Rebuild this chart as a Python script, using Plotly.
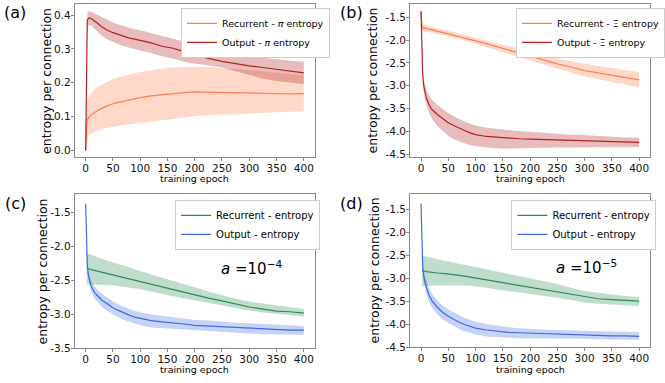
import plotly.graph_objects as go
from plotly.subplots import make_subplots

epochs = [0, 1, 2, 3, 5, 7, 10, 15, 20, 30, 40, 50, 60, 70, 80, 90, 100,
          120, 140, 160, 180, 200, 225, 250, 275, 300, 325, 350, 375, 400]
# the recurrent curves in (c) and (d) start at epoch 2
epochs_rec = epochs[2:]

# (a) pi entropy
rec_pi_mean = [0.0, 0.06, 0.08, 0.09, 0.096, 0.10, 0.105, 0.111, 0.116, 0.125, 0.132, 0.138, 0.142, 0.146, 0.150,
               0.153, 0.156, 0.161, 0.165, 0.168, 0.171, 0.173, 0.172, 0.170, 0.170, 0.169, 0.168, 0.166, 0.167, 0.168]
rec_pi_lo = [0.0, 0.02, 0.03, 0.037, 0.045, 0.048, 0.05, 0.054, 0.058, 0.063, 0.067, 0.07, 0.073, 0.075, 0.077,
             0.079, 0.081, 0.085, 0.09, 0.094, 0.098, 0.101, 0.104, 0.106, 0.108, 0.11, 0.112, 0.113, 0.114, 0.115]
rec_pi_hi = [0.0, 0.10, 0.13, 0.145, 0.155, 0.162, 0.17, 0.178, 0.185, 0.195, 0.203, 0.21, 0.216, 0.221, 0.225,
             0.229, 0.232, 0.238, 0.242, 0.245, 0.247, 0.247, 0.246, 0.244, 0.241, 0.238, 0.234, 0.23, 0.226, 0.222]
out_pi_mean = [0.0, 0.2, 0.33, 0.385, 0.39, 0.392, 0.39, 0.385, 0.378, 0.365, 0.355, 0.348, 0.342, 0.337, 0.332,
               0.329, 0.326, 0.318, 0.308, 0.302, 0.292, 0.283, 0.272, 0.263, 0.256, 0.25, 0.245, 0.239, 0.234, 0.229]
out_pi_lo = [0.0, 0.18, 0.3, 0.36, 0.368, 0.37, 0.37, 0.362, 0.352, 0.338, 0.328, 0.32, 0.314, 0.308, 0.303,
             0.299, 0.295, 0.288, 0.278, 0.272, 0.262, 0.257, 0.251, 0.245, 0.234, 0.222, 0.212, 0.205, 0.2, 0.196]
out_pi_hi = [0.0, 0.22, 0.36, 0.405, 0.41, 0.412, 0.41, 0.406, 0.4, 0.392, 0.385, 0.378, 0.372, 0.367, 0.362,
             0.358, 0.355, 0.347, 0.34, 0.332, 0.322, 0.31, 0.3, 0.29, 0.283, 0.278, 0.273, 0.268, 0.265, 0.262]

# (b) Xi entropy
rec_xi_mean = [-1.37, -1.65, -1.72, -1.73, -1.74, -1.745, -1.75, -1.76, -1.775, -1.8, -1.83, -1.86, -1.89, -1.92, -1.95,
               -1.98, -2.01, -2.08, -2.15, -2.22, -2.29, -2.36, -2.44, -2.52, -2.59, -2.67, -2.72, -2.77, -2.82, -2.87]
rec_xi_hi = [-1.37, -1.6, -1.65, -1.66, -1.67, -1.675, -1.68, -1.69, -1.71, -1.74, -1.77, -1.8, -1.83, -1.86, -1.89,
             -1.92, -1.95, -2.01, -2.07, -2.14, -2.2, -2.26, -2.33, -2.4, -2.46, -2.52, -2.57, -2.61, -2.66, -2.7]
rec_xi_lo = [-1.37, -1.7, -1.78, -1.8, -1.81, -1.815, -1.82, -1.83, -1.84, -1.86, -1.89, -1.92, -1.95, -1.99, -2.02,
             -2.05, -2.08, -2.15, -2.23, -2.3, -2.38, -2.45, -2.54, -2.63, -2.72, -2.8, -2.86, -2.92, -2.98, -3.04]
out_xi_mean = [-1.37, -1.9, -2.4, -2.75, -3.0, -3.15, -3.28, -3.42, -3.52, -3.63, -3.73, -3.81, -3.87, -3.93, -3.98,
               -4.03, -4.07, -4.11, -4.13, -4.15, -4.16, -4.17, -4.18, -4.19, -4.2, -4.21, -4.22, -4.23, -4.24, -4.24]
out_xi_hi = [-1.37, -1.8, -2.25, -2.55, -2.85, -3.0, -3.12, -3.22, -3.3, -3.42, -3.52, -3.6, -3.67, -3.73, -3.78,
             -3.83, -3.87, -3.92, -3.95, -3.97, -3.99, -4.01, -4.03, -4.05, -4.07, -4.08, -4.1, -4.12, -4.13, -4.13]
out_xi_lo = [-1.37, -2.0, -2.55, -2.95, -3.15, -3.3, -3.42, -3.6, -3.72, -3.88, -4.0, -4.1, -4.17, -4.22, -4.26,
             -4.3, -4.32, -4.35, -4.37, -4.38, -4.37, -4.36, -4.36, -4.35, -4.35, -4.35, -4.35, -4.35, -4.34, -4.34]

# (c) a = 1e-4
rec_c_mean = [-2.32, -2.32, -2.33, -2.33, -2.34, -2.35, -2.36, -2.38, -2.4, -2.42, -2.44, -2.46, -2.48, -2.5,
              -2.52, -2.55, -2.59, -2.63, -2.67, -2.71, -2.76, -2.8, -2.85, -2.89, -2.92, -2.95, -2.96, -2.98]
rec_c_hi = [-2.1, -2.1, -2.1, -2.11, -2.12, -2.14, -2.15, -2.18, -2.21, -2.24, -2.26, -2.28, -2.31, -2.33,
            -2.36, -2.41, -2.46, -2.51, -2.55, -2.6, -2.66, -2.72, -2.77, -2.81, -2.84, -2.87, -2.9, -2.92]
rec_c_lo = [-2.56, -2.56, -2.56, -2.56, -2.56, -2.56, -2.56, -2.57, -2.57, -2.57, -2.58, -2.59, -2.6, -2.62,
            -2.63, -2.66, -2.7, -2.73, -2.76, -2.79, -2.83, -2.87, -2.91, -2.94, -2.97, -2.99, -3.01, -3.03]
out_c_mean = [-1.37, -1.85, -2.1, -2.27, -2.42, -2.5, -2.58, -2.66, -2.71, -2.79, -2.85, -2.9, -2.94, -2.98, -3.01,
              -3.04, -3.06, -3.09, -3.11, -3.12, -3.14, -3.16, -3.17, -3.19, -3.2, -3.21, -3.22, -3.22, -3.23, -3.23]
out_c_hi = [-1.37, -1.82, -2.05, -2.2, -2.35, -2.42, -2.5, -2.57, -2.62, -2.7, -2.76, -2.81, -2.85, -2.89, -2.92,
            -2.95, -2.97, -3.0, -3.02, -3.04, -3.06, -3.08, -3.09, -3.11, -3.12, -3.13, -3.14, -3.15, -3.16, -3.17]
out_c_lo = [-1.37, -1.88, -2.15, -2.34, -2.49, -2.58, -2.66, -2.75, -2.8, -2.89, -2.95, -3.0, -3.04, -3.08, -3.11,
            -3.14, -3.16, -3.19, -3.2, -3.21, -3.23, -3.24, -3.25, -3.26, -3.27, -3.28, -3.29, -3.29, -3.3, -3.3]

# (d) a = 1e-5
rec_d_mean = [-2.83, -2.83, -2.84, -2.84, -2.85, -2.86, -2.87, -2.88, -2.89, -2.9, -2.91, -2.93, -2.95, -2.97,
              -2.99, -3.03, -3.07, -3.11, -3.15, -3.2, -3.25, -3.3, -3.35, -3.4, -3.44, -3.46, -3.48, -3.49]
rec_d_hi = [-2.5, -2.5, -2.5, -2.51, -2.52, -2.54, -2.55, -2.58, -2.6, -2.63, -2.65, -2.68, -2.7, -2.73,
            -2.75, -2.8, -2.85, -2.9, -2.94, -2.99, -3.05, -3.12, -3.2, -3.27, -3.31, -3.35, -3.38, -3.4]
rec_d_lo = [-3.17, -3.17, -3.17, -3.16, -3.16, -3.16, -3.15, -3.15, -3.14, -3.14, -3.14, -3.15, -3.15, -3.16,
            -3.17, -3.2, -3.24, -3.27, -3.3, -3.33, -3.38, -3.42, -3.47, -3.52, -3.55, -3.57, -3.59, -3.6]
out_d_mean = [-1.37, -2.0, -2.45, -2.7, -2.95, -3.08, -3.2, -3.37, -3.48, -3.63, -3.74, -3.82, -3.89, -3.95, -4.0,
              -4.04, -4.08, -4.12, -4.15, -4.17, -4.18, -4.19, -4.2, -4.21, -4.22, -4.23, -4.24, -4.25, -4.25, -4.26]
out_d_hi = [-1.37, -1.95, -2.35, -2.58, -2.82, -2.95, -3.06, -3.22, -3.33, -3.48, -3.59, -3.67, -3.74, -3.8, -3.86,
            -3.9, -3.94, -3.99, -4.03, -4.06, -4.08, -4.1, -4.11, -4.12, -4.13, -4.14, -4.15, -4.16, -4.17, -4.17]
out_d_lo = [-1.37, -2.05, -2.55, -2.82, -3.08, -3.21, -3.34, -3.52, -3.63, -3.78, -3.89, -3.97, -4.04, -4.1, -4.15,
            -4.19, -4.22, -4.26, -4.28, -4.29, -4.3, -4.3, -4.3, -4.3, -4.31, -4.31, -4.32, -4.32, -4.33, -4.33]

x_ticks = [0, 50, 100, 150, 200, 250, 300, 350, 400]
y_ticks_a = [0.0, 0.1, 0.2, 0.3, 0.4]
y_labels_a = ["0.0", "0.1", "0.2", "0.3", "0.4"]
y_ticks_b = [-4.5, -4.0, -3.5, -3.0, -2.5, -2.0, -1.5]
y_labels_b = ["-4.5", "-4.0", "-3.5", "-3.0", "-2.5", "-2.0", "-1.5"]
y_ticks_c = [-3.5, -3.0, -2.5, -2.0, -1.5]
y_labels_c = ["-3.5", "-3.0", "-2.5", "-2.0", "-1.5"]

ORANGE, RED, GREEN, BLUE = "#FF7F50", "#B22222", "#2E8B57", "#4169E1"
FILLS = {ORANGE: "rgba(255,127,80,0.3)", RED: "rgba(178,34,34,0.3)",
         GREEN: "rgba(46,139,87,0.3)", BLUE: "rgba(65,105,225,0.3)"}
FONT = "DejaVu Sans"

fig = make_subplots(rows=2, cols=2)


def add_band(x, lo, hi, color, row, col):
    fig.add_trace(go.Scatter(x=x, y=hi, mode="lines", line=dict(width=0), showlegend=False,
                             hoverinfo="skip"), row=row, col=col)
    fig.add_trace(go.Scatter(x=x, y=lo, mode="lines", line=dict(width=0), fill="tonexty",
                             fillcolor=FILLS[color], showlegend=False, hoverinfo="skip"), row=row, col=col)


def add_line(x, y, color, name, legend, row, col):
    fig.add_trace(go.Scatter(x=x, y=y, mode="lines", line=dict(color=color, width=1.2),
                             name=name, legend=legend), row=row, col=col)


# (a)
add_band(epochs, rec_pi_lo, rec_pi_hi, ORANGE, 1, 1)
add_band(epochs, out_pi_lo, out_pi_hi, RED, 1, 1)
add_line(epochs, rec_pi_mean, ORANGE, "Recurrent - <i>π</i> entropy", "legend", 1, 1)
add_line(epochs, out_pi_mean, RED, "Output - <i>π</i> entropy", "legend", 1, 1)
# (b)
add_band(epochs, rec_xi_lo, rec_xi_hi, ORANGE, 1, 2)
add_band(epochs, out_xi_lo, out_xi_hi, RED, 1, 2)
add_line(epochs, rec_xi_mean, ORANGE, "Recurrent - Ξ entropy", "legend2", 1, 2)
add_line(epochs, out_xi_mean, RED, "Output - Ξ entropy", "legend2", 1, 2)
# (c)
add_band(epochs_rec, rec_c_lo, rec_c_hi, GREEN, 2, 1)
add_band(epochs, out_c_lo, out_c_hi, BLUE, 2, 1)
add_line(epochs_rec, rec_c_mean, GREEN, "Recurrent - entropy", "legend3", 2, 1)
add_line(epochs, out_c_mean, BLUE, "Output - entropy", "legend3", 2, 1)
# (d)
add_band(epochs_rec, rec_d_lo, rec_d_hi, GREEN, 2, 2)
add_band(epochs, out_d_lo, out_d_hi, BLUE, 2, 2)
add_line(epochs_rec, rec_d_mean, GREEN, "Recurrent - entropy", "legend4", 2, 2)
add_line(epochs, out_d_mean, BLUE, "Output - entropy", "legend4", 2, 2)

W, H = 665, 383
# axes boxes in pixels: left, right, top, bottom
boxes = {(1, 1): (76, 320, 4, 160), (1, 2): (417, 661, 4, 160),
         (2, 1): (76, 320, 197, 354), (2, 2): (417, 661, 197, 353)}
y_setup = {(1, 1): ([-0.021, 0.433], y_ticks_a, y_labels_a),
           (1, 2): ([-4.57, -1.21], y_ticks_b, y_labels_b),
           (2, 1): ([-3.5, -1.225], y_ticks_c, y_labels_c),
           (2, 2): ([-4.5, -1.16], y_ticks_b, y_labels_b)}

axis_style = dict(showline=True, mirror=True, linecolor="#888", linewidth=1, showgrid=False, zeroline=False,
                  ticks="outside", ticklen=3, tickwidth=1, tickcolor="#888", ticklabelstandoff=-2,
                  tickfont=dict(family=FONT, size=10.5, color="#111"))

for (r, c), (l, rt, t, b) in boxes.items():
    fig.update_xaxes(domain=[l / W, rt / W], range=[-20, 420], tickvals=x_ticks, row=r, col=c, **axis_style)
    rng, tv, tt = y_setup[(r, c)]
    fig.update_yaxes(domain=[1 - b / H, 1 - t / H], range=rng, tickvals=tv, ticktext=tt, row=r, col=c,
                     **axis_style)

annotations = []
panel_labels = [("(a)", 15, 13), ("(b)", 357, 13), ("(c)", 16, 207), ("(d)", 357, 207)]
for txt, px, py in panel_labels:
    annotations.append(dict(text=txt, x=px / W, y=1 - py / H, xref="paper", yref="paper", showarrow=False,
                            xanchor="center", yanchor="middle", font=dict(family=FONT, size=16, color="#000")))

ytitle_x = {(1, 1): 47, (1, 2): 379, (2, 1): 43, (2, 2): 381}
xtitle_y = {(1, 1): 181, (1, 2): 181, (2, 1): 375, (2, 2): 375}
for (r, c), (l, rt, t, b) in boxes.items():
    annotations.append(dict(text="entropy per connection", textangle=-90, x=ytitle_x[(r, c)] / W,
                            y=1 - (t + b) / 2 / H, xref="paper", yref="paper", showarrow=False,
                            xanchor="center", yanchor="middle", font=dict(family=FONT, size=12.5, color="#000")))
    annotations.append(dict(text="training epoch", x=(l + rt) / 2 / W, y=1 - xtitle_y[(r, c)] / H,
                            xref="paper", yref="paper", showarrow=False, xanchor="center", yanchor="middle",
                            font=dict(family=FONT, size=9.5, color="#000")))

annotations.append(dict(text="<i>a</i> =10<sup>−4</sup>", x=244, y=-2.31, xref="x3", yref="y3", showarrow=False,
                        xanchor="left", yanchor="middle", font=dict(family=FONT, size=15, color="#000")))
annotations.append(dict(text="<i>a</i> =10<sup>−5</sup>", x=243, y=-2.76, xref="x4", yref="y4", showarrow=False,
                        xanchor="left", yanchor="middle", font=dict(family=FONT, size=15, color="#000")))

legend_style = dict(bgcolor="white", bordercolor="#cccccc", borderwidth=1, xanchor="left", yanchor="top",
                    itemwidth=30, tracegroupgap=0, traceorder="normal")
fig.update_layout(
    width=W, height=H, margin=dict(l=0, r=0, t=0, b=0),
    plot_bgcolor="white", paper_bgcolor="white",
    font=dict(family=FONT, color="#000"),
    annotations=annotations,
    legend=dict(x=184 / W, y=1 - 8 / H, font=dict(family=FONT, size=9.5), **legend_style),
    legend2=dict(x=525 / W, y=1 - 8 / H, font=dict(family=FONT, size=9.5), **legend_style),
    legend3=dict(x=178 / W, y=1 - 203 / H, font=dict(family=FONT, size=10), **legend_style),
    legend4=dict(x=520 / W, y=1 - 203 / H, font=dict(family=FONT, size=10), **legend_style),
)

# the page body has a default 8px margin; drop it so the figure sits at the window origin
fig.write_html("out.html", config={"displayModeBar": False},
               post_script="document.body.style.margin = '0';")
